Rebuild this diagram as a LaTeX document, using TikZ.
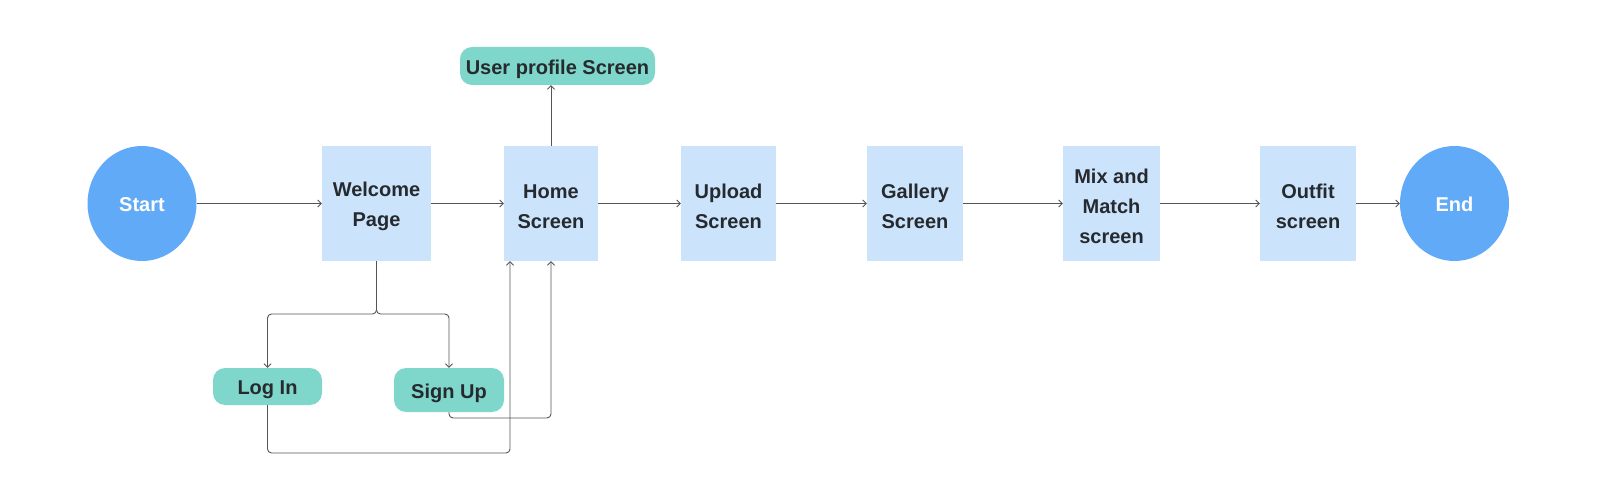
\documentclass[tikz,border=0pt]{standalone}
\usepackage{fontspec}
\setmainfont{Liberation Sans}
\usetikzlibrary{arrows.meta,shapes.geometric}
\definecolor{circblue}{HTML}{60AAF8}
\definecolor{boxblue}{HTML}{CCE4FB}
\definecolor{teal}{HTML}{7FD6CA}
\definecolor{txt}{HTML}{262A2E}
\definecolor{linec}{HTML}{555555}
\tikzset{
  lbl/.style={font=\fontsize{20}{30}\selectfont\bfseries, align=center, inner sep=0pt},
  tw/.style={label={[lbl, text=white, yshift=-1pt]center:#1}},
  tb/.style={label={[lbl, text=txt, yshift=-3pt]center:#1}},
  circ/.style={ellipse, fill=circblue, minimum width=109, minimum height=115, inner sep=0pt},
  scr/.style={rectangle, fill=boxblue, minimum height=115, inner sep=0pt},
  pill/.style={rectangle, rounded corners=12, fill=teal, inner sep=0pt},
  arr/.style={draw=linec, line width=0.9pt, -{Straight Barb[length=3.5pt,width=7pt]}},
}
\begin{document}
\begin{tikzpicture}[x=1pt,y=-1pt]
\useasboundingbox (0,0) rectangle (1622,494);
\node[circ, tw={Start}] (start) at (142,203.5) {};
\node[scr, minimum width=109, tb={Welcome\\Page}] (wel) at (376.5,203.5) {};
\node[scr, minimum width=94, tb={Home\\Screen}] (home) at (551,203.5) {};
\node[scr, minimum width=95, tb={Upload\\Screen}] (upload) at (728.5,203.5) {};
\node[scr, minimum width=96, tb={Gallery\\Screen}] (gallery) at (915,203.5) {};
\node[scr, minimum width=97, tb={Mix and\\Match\\screen}] (mix) at (1111.5,203.5) {};
\node[scr, minimum width=96, tb={Outfit\\screen}] (outfit) at (1308,203.5) {};
\node[circ, tw={End}] (end) at (1454.5,203.5) {};
\node[pill, minimum width=195, minimum height=38, tb={User profile Screen}] (prof) at (557.5,66) {};
\node[pill, minimum width=109, minimum height=37, tb={Log In}] (login) at (267.5,386.5) {};
\node[pill, minimum width=110, minimum height=44, tb={Sign Up}] (signup) at (449,390) {};
\draw[arr] (start) -- (wel);
\draw[arr] (wel) -- (home);
\draw[arr] (home) -- (upload);
\draw[arr] (upload) -- (gallery);
\draw[arr] (gallery) -- (mix);
\draw[arr] (mix) -- (outfit);
\draw[arr] (outfit) -- (end);
\draw[arr] (home.north) -- (home.north |- prof.south);
\coordinate (split) at (376.5,314);
\draw[arr, rounded corners=4] (wel.south) -- (split) -| (login.north);
\draw[arr, rounded corners=4] (wel.south) -- (split) -| (signup.north);
\coordinate (lb) at (267.5,453);
\coordinate (sb) at (449,418);
\coordinate (lr) at (510,453);
\draw[arr, rounded corners=4] (login.south) -- (lb) -- (lr) -- (lr |- home.south);
\draw[arr, rounded corners=4] (signup.south) -- (sb) -| (home.south);
\end{tikzpicture}
\end{document}
